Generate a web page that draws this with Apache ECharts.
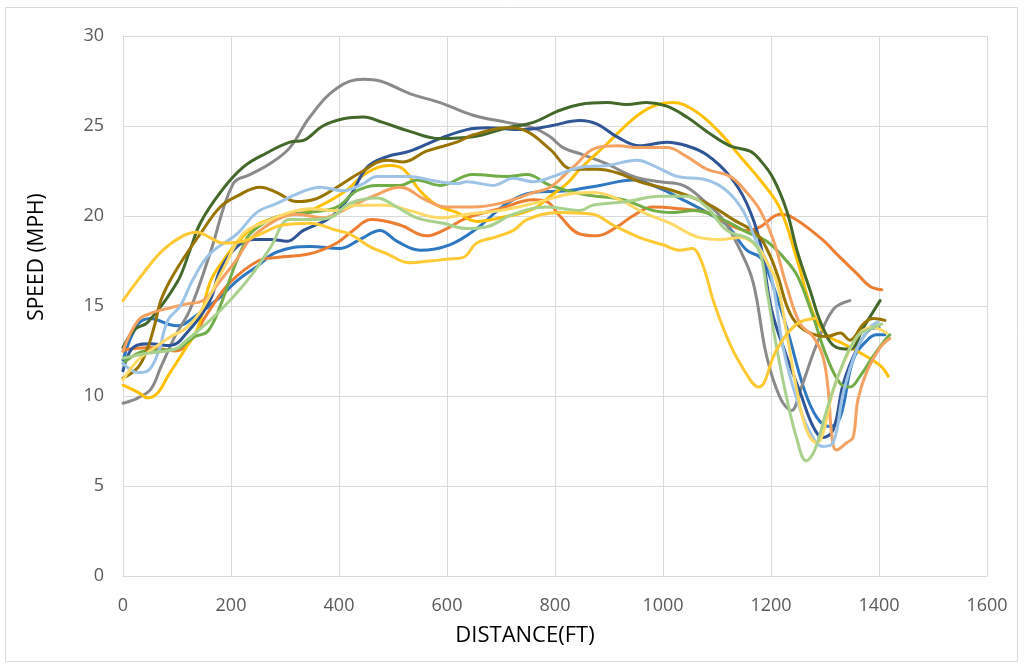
<!DOCTYPE html>
<html>
<head>
<meta charset="utf-8">
<title>Speed vs Distance</title>
<script src="https://cdn.jsdelivr.net/npm/echarts@6/dist/echarts.min.js"></script>
<style>
  html, body { margin: 0; padding: 0; background: #fff; }
  #chart { width: 1024px; height: 666px; }
</style>
</head>
<body>
<div id="chart"></div>
<script>
// Axis ticks and titles
const xTicks = [0, 200, 400, 600, 800, 1000, 1200, 1400, 1600];
const yTicks = [0, 5, 10, 15, 20, 25, 30];
const xTitle = 'DISTANCE(FT)';
const yTitle = 'SPEED (MPH)';

// Speed traces: [distance (ft), speed (mph)]
const runBlue = [[0,12.0],[28,14.0],[52,14.3],[83,14.0],[100,13.9],[137,14.5],[180,15.5],[211,16.4],[248,17.2],[285,18.0],[346,18.3],[402,18.2],[439,18.7],[476,19.2],[507,18.6],[550,18.1],[605,18.4],[655,19.3],[711,20.7],[760,21.3],[822,21.4],[883,21.7],[945,22.0],[989,21.6],[1037,20.9],[1081,20.2],[1118,19.5],[1155,18.1],[1180,17.7],[1196,16.8],[1229,13.8],[1260,10.5],[1285,8.8],[1309,8.3],[1328,8.8],[1352,12.0],[1378,13.1],[1396,13.4],[1411,13.4]];
const runOrange = [[0,12.5],[9,12.6],[52,12.7],[96,12.5],[120,12.9],[161,14.8],[198,16.3],[250,17.5],[285,17.7],[346,17.9],[396,18.5],[426,19.2],[460,19.8],[513,19.5],[562,18.9],[593,19.2],[637,19.9],[698,20.4],[760,20.9],[785,20.8],[809,20.0],[846,19.0],[878,18.9],[915,19.4],[944,20.0],[981,20.5],[1031,20.4],[1081,20.2],[1118,19.6],[1155,19.2],[1180,19.4],[1217,20.1],[1235,20.0],[1291,18.8],[1328,17.7],[1359,16.8],[1383,16.1],[1405,15.9]];
const runGray = [[0,9.6],[28,9.9],[52,10.4],[70,11.6],[96,13.3],[124,14.8],[161,17.9],[204,21.8],[235,22.3],[272,22.9],[309,23.8],[346,25.5],[396,27.1],[445,27.6],[476,27.5],[531,26.8],[587,26.3],[648,25.6],[711,25.2],[760,24.9],[791,24.4],[815,23.8],[852,23.4],[896,22.9],[945,22.2],[994,21.9],[1037,21.7],[1074,20.9],[1111,19.8],[1143,18.1],[1167,16.3],[1192,12.2],[1217,9.9],[1238,9.2],[1254,10.3],[1285,12.9],[1315,14.8],[1346,15.3]];
const runGold = [[0,10.6],[28,10.2],[46,9.9],[65,10.2],[83,11.1],[115,12.6],[139,13.8],[161,16.3],[185,17.5],[220,18.8],[254,19.6],[300,20.0],[346,20.3],[408,21.3],[452,22.4],[494,22.8],[519,22.6],[550,21.4],[581,20.6],[618,20.2],[655,19.7],[698,19.9],[760,20.4],[791,21.1],[822,21.8],[846,22.6],[896,24.0],[945,25.4],[982,26.1],[1019,26.3],[1056,25.9],[1100,24.8],[1143,23.3],[1180,22.0],[1217,20.4],[1248,17.6],[1278,14.6],[1303,13.4],[1334,12.9],[1365,12.4],[1402,11.7],[1417,11.1]];
const runNavy = [[0,11.4],[19,12.7],[50,12.9],[87,12.8],[118,13.5],[161,15.3],[180,17.0],[211,18.3],[241,18.7],[272,18.7],[304,18.6],[334,19.2],[383,19.9],[420,21.1],[452,22.7],[489,23.3],[531,23.6],[587,24.3],[637,24.8],[674,24.9],[741,24.8],[791,25.0],[846,25.3],[878,25.1],[915,24.4],[957,23.9],[1007,24.1],[1044,23.9],[1081,23.4],[1124,22.2],[1155,20.7],[1180,18.5],[1201,14.8],[1229,12.2],[1254,10.2],[1278,8.3],[1296,7.7],[1315,8.1],[1334,10.7],[1359,12.6],[1383,13.7],[1400,13.8]];
const runGreen = [[0,11.8],[40,12.5],[96,12.6],[133,13.3],[157,13.6],[180,15.0],[204,17.0],[222,18.3],[235,19.0],[272,19.8],[309,20.1],[346,20.2],[396,20.5],[433,21.4],[470,21.7],[513,21.7],[544,22.0],[587,21.7],[648,22.3],[711,22.2],[748,22.3],[791,21.7],[852,21.2],[926,20.9],[982,20.3],[1019,20.2],[1056,20.3],[1111,19.8],[1155,19.1],[1192,18.6],[1229,17.5],[1250,16.6],[1278,14.4],[1303,12.2],[1328,10.7],[1346,10.5],[1365,11.1],[1389,12.2],[1411,13.1],[1420,13.4]];
const runForest = [[0,12.7],[22,13.7],[46,14.1],[100,16.3],[124,18.1],[143,19.6],[180,21.3],[222,22.7],[266,23.5],[309,24.1],[334,24.2],[370,25.0],[408,25.4],[445,25.5],[481,25.2],[531,24.7],[587,24.3],[648,24.4],[711,24.9],[760,25.2],[803,25.8],[846,26.2],[896,26.3],[933,26.2],[970,26.3],[1007,26.1],[1044,25.5],[1081,24.7],[1124,23.9],[1161,23.6],[1180,23.1],[1204,22.1],[1229,20.3],[1248,18.1],[1272,15.9],[1296,13.8],[1321,12.7],[1346,12.6],[1371,13.8],[1402,15.3]];
const runOlive = [[0,11.0],[28,11.6],[46,12.7],[59,14.0],[70,15.3],[87,16.4],[111,17.6],[143,19.0],[180,20.5],[211,21.1],[254,21.6],[285,21.3],[322,20.8],[352,20.9],[396,21.6],[439,22.4],[489,23.1],[519,23.0],[562,23.6],[618,24.1],[648,24.5],[711,24.9],[748,24.7],[791,23.7],[833,22.6],[878,22.6],[915,22.4],[957,21.9],[1019,21.4],[1081,20.7],[1130,19.8],[1174,19.0],[1195,18.0],[1211,16.8],[1235,14.6],[1260,13.7],[1303,13.3],[1328,13.5],[1346,13.1],[1371,14.0],[1389,14.3],[1411,14.2]];
const runSalmon = [[0,12.5],[28,14.2],[52,14.6],[74,14.8],[115,15.1],[148,15.3],[180,16.4],[211,17.6],[235,18.7],[285,19.8],[322,20.1],[370,19.9],[420,20.5],[463,21.1],[513,21.6],[560,20.9],[599,20.5],[648,20.5],[698,20.7],[760,21.3],[791,21.6],[833,22.7],[878,23.8],[915,23.9],[957,23.8],[1007,23.8],[1044,23.3],[1081,22.6],[1124,22.2],[1155,21.3],[1180,20.3],[1204,18.7],[1229,16.1],[1254,14.0],[1278,13.3],[1296,12.2],[1306,10.3],[1313,7.7],[1321,7.0],[1340,7.4],[1352,7.7],[1361,9.8],[1378,11.4],[1402,12.7],[1420,13.2]];
const runSky = [[0,11.8],[28,11.3],[46,11.4],[65,12.4],[83,14.2],[106,15.0],[130,16.5],[161,17.9],[211,19.0],[248,20.2],[285,20.7],[328,21.3],[365,21.6],[408,21.4],[445,21.8],[470,22.2],[531,22.2],[568,22.0],[618,21.8],[637,21.9],[686,21.7],[723,22.1],[760,21.9],[797,22.2],[846,22.7],[896,22.8],[952,23.1],[989,22.7],[1026,22.2],[1081,22.0],[1118,21.4],[1148,20.3],[1174,18.5],[1198,17.0],[1223,12.6],[1248,9.8],[1272,8.0],[1296,7.2],[1315,7.4],[1334,10.2],[1359,12.6],[1383,13.8],[1398,14.1]];
const runCream = [[0,10.9],[28,12.0],[59,12.7],[89,13.3],[118,13.8],[148,14.9],[185,17.0],[222,19.0],[266,19.7],[309,20.2],[346,20.4],[396,20.3],[433,20.6],[489,20.6],[531,20.3],[587,19.9],[637,20.1],[698,20.3],[760,20.7],[822,21.2],[870,21.3],[920,20.9],[963,20.2],[1013,19.6],[1068,18.8],[1106,18.7],[1143,18.8],[1174,18.3],[1195,17.3],[1211,16.3],[1229,13.5],[1248,10.3],[1266,8.1],[1285,7.4],[1296,7.9],[1315,10.3],[1340,12.2],[1365,13.5],[1389,13.8],[1414,13.5]];
const runMint = [[0,12.1],[52,12.4],[96,12.6],[118,13.1],[161,14.2],[198,15.3],[235,16.6],[272,18.2],[309,19.8],[346,19.8],[383,19.9],[420,20.7],[470,21.0],[507,20.5],[544,19.9],[593,19.6],[637,19.3],[674,19.4],[723,20.1],[785,20.5],[846,20.3],[870,20.6],[933,20.8],[994,21.1],[1044,21.1],[1081,20.5],[1118,19.2],[1161,18.7],[1180,17.9],[1192,15.9],[1211,12.6],[1229,9.9],[1248,7.6],[1265,6.4],[1281,7.0],[1303,9.2],[1328,11.4],[1359,13.3],[1389,13.8],[1405,14.0]];
const runAmber = [[0,15.3],[37,16.8],[74,18.1],[111,18.9],[137,19.1],[161,18.8],[185,18.5],[222,18.6],[254,19.0],[296,19.5],[346,19.6],[396,19.2],[420,19.0],[457,18.3],[489,17.9],[531,17.4],[568,17.5],[599,17.6],[630,17.7],[655,18.5],[686,18.8],[723,19.2],[748,19.8],[809,20.2],[870,20.1],[907,19.5],[957,18.8],[1000,18.4],[1031,18.1],[1055,18.2],[1068,17.7],[1081,16.6],[1093,15.3],[1118,13.3],[1143,11.8],[1177,10.5],[1211,12.6],[1248,14.0],[1281,14.3]];

const traces = [
  { data: runBlue,   color: '#2E78C2' },
  { data: runOrange, color: '#ED7D31' },
  { data: runGray,   color: '#8A8A8A' },
  { data: runGold,   color: '#FFC000' },
  { data: runNavy,   color: '#2F5597' },
  { data: runGreen,  color: '#70AD47' },
  { data: runForest, color: '#43682B' },
  { data: runOlive,  color: '#997300' },
  { data: runSalmon, color: '#F4A162' },
  { data: runSky,    color: '#9DC3E6' },
  { data: runCream,  color: '#FFD966' },
  { data: runMint,   color: '#A9D18E' },
  { data: runAmber,  color: '#FFC934' }
];

const labelFont = '"Open Sans", "DejaVu Sans", sans-serif';

const chart = echarts.init(document.getElementById('chart'), null, { renderer: 'canvas' });
chart.setOption({
  backgroundColor: '#ffffff',
  animation: false,
  graphic: [
    {
      // chart area frame
      type: 'rect',
      shape: { x: 5.5, y: 7.5, width: 1012, height: 654 },
      style: { fill: 'none', stroke: '#D9D9D9', lineWidth: 1 },
      silent: true
    },
    {
      type: 'text',
      x: 37, y: 257,
      rotation: Math.PI / 2,
      style: {
        text: yTitle, fill: '#000', fontSize: 21, fontFamily: labelFont,
        align: 'center', verticalAlign: 'middle'
      },
      silent: true
    },
    {
      type: 'text',
      x: 525, y: 636,
      style: {
        text: xTitle, fill: '#000', fontSize: 22, fontFamily: labelFont,
        align: 'center', verticalAlign: 'middle'
      },
      silent: true
    }
  ],
  grid: { left: 123, right: 37, top: 36, bottom: 90 },
  xAxis: {
    type: 'value',
    min: xTicks[0],
    max: xTicks[xTicks.length - 1],
    interval: xTicks[1] - xTicks[0],
    axisLine: { show: true, lineStyle: { color: '#D9D9D9', width: 1 } },
    axisTick: { show: false },
    axisLabel: {
      color: '#595959', fontSize: 18, margin: 21, fontFamily: labelFont,
      formatter: v => String(v)
    },
    splitLine: { show: true, lineStyle: { color: '#D9D9D9', width: 1 } }
  },
  yAxis: {
    type: 'value',
    min: yTicks[0],
    max: yTicks[yTicks.length - 1],
    interval: yTicks[1] - yTicks[0],
    axisLine: { show: true, lineStyle: { color: '#D9D9D9', width: 1 } },
    axisTick: { show: false },
    axisLabel: { color: '#595959', fontSize: 18, margin: 19, fontFamily: labelFont },
    splitLine: { show: true, lineStyle: { color: '#D9D9D9', width: 1 } }
  },
  series: traces.map(t => ({
    type: 'line',
    data: t.data,
    smooth: 0.4,
    showSymbol: false,
    symbol: 'none',
    lineStyle: { color: t.color, width: 3, cap: 'round', join: 'round' },
    itemStyle: { color: t.color },
    z: 2
  }))
});
</script>
</body>
</html>
